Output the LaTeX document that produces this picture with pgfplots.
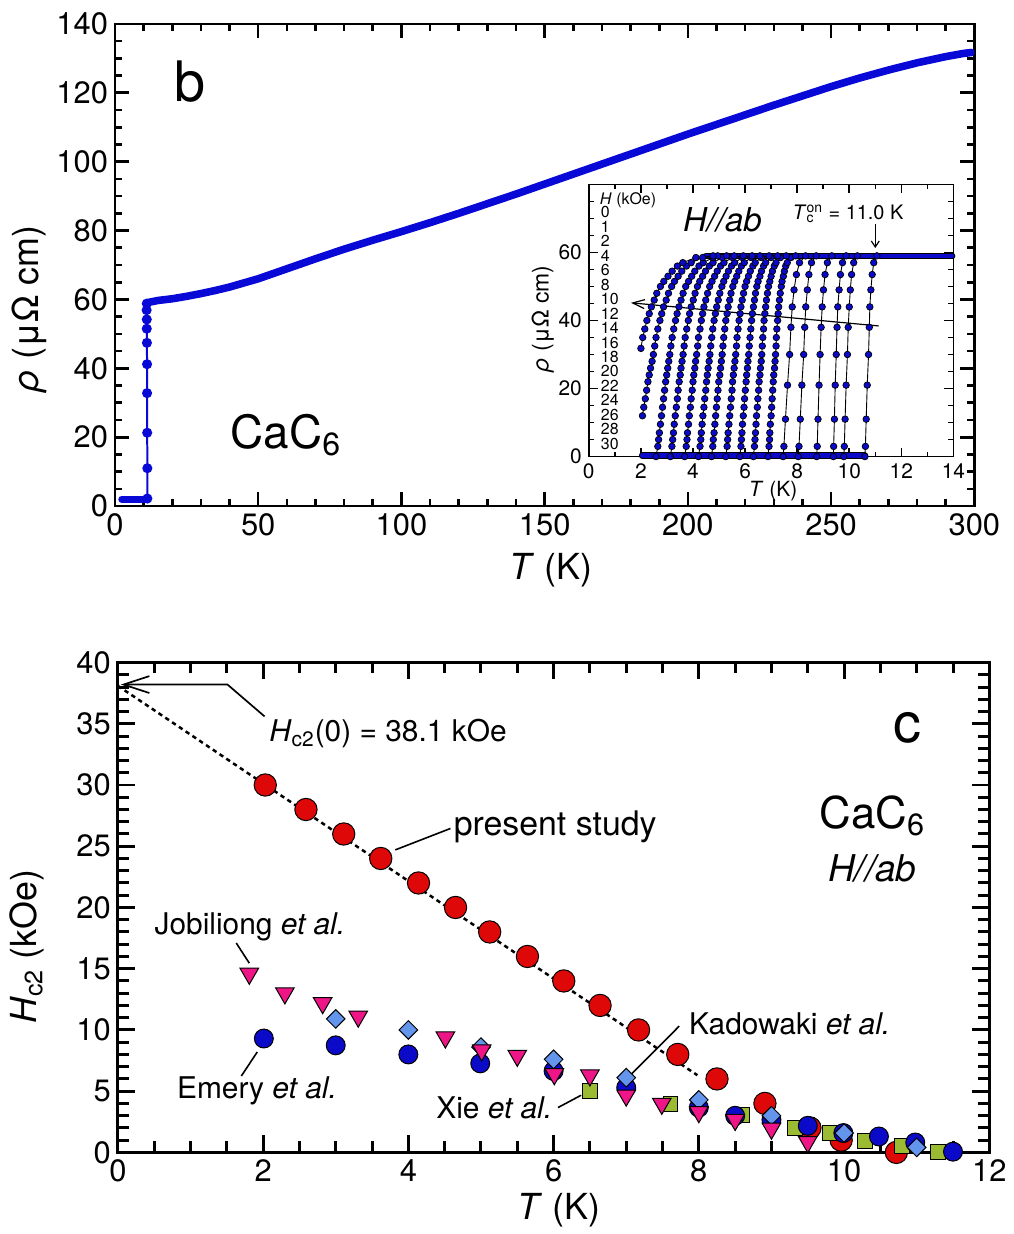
\documentclass[border=0pt]{standalone}
\usepackage{fontspec}
\setmainfont{TeX Gyre Heros}
\usepackage{pgfplots}
\pgfplotsset{compat=1.18}
\usetikzlibrary{arrows.meta}
\definecolor{cblue}{RGB}{8,8,215}
\definecolor{mblue}{RGB}{10,10,200}
\definecolor{cred}{RGB}{222,8,8}
\definecolor{cdiam}{RGB}{100,149,237}
\definecolor{cpink}{RGB}{238,22,135}
\definecolor{cgreen}{RGB}{155,188,50}
\newcommand{\FS}[1]{\fontsize{#1}{#1}\selectfont}
\pgfplotsset{
 ic/.style={black, line width=0.45pt, mark=*, mark size=1.65pt, mark options={fill=mblue, draw=black, line width=0.35pt}},
}
\tikzset{num/.style={anchor=base west, inner sep=0pt, font=\FS{8}}}
\begin{document}
\begin{tikzpicture}
\path (0,0) rectangle (507pt,617pt);
% ================= top panel =================
\begin{axis}[
 at={(57.7pt,363pt)}, anchor=south west, scale only axis,
 width=431.3pt, height=242pt,
 xmin=0, xmax=300, ymin=0, ymax=140,
 xtick={0,50,...,300}, minor x tick num=4,
 ytick={0,20,...,140}, minor y tick num=3,
 tick align=inside, major tick length=7pt, minor tick length=3.5pt,
 axis line style={line width=1.3pt},
 tick style={black, line width=1.3pt},
 /pgf/number format/assume math mode=true,
 tick label style={font=\FS{15.5}},
]
\addplot[cblue, line width=3.6pt, line cap=round] coordinates {(2.4,2)(11.2,2)};
\addplot[cblue, line width=1pt, mark=*, mark size=2pt, mark options={fill=cblue, draw=cblue}] coordinates {
(11.3,2.2)(11.3,11)(11.25,21.3)(11.2,32.8)(11.2,41.2)(11.15,47.4)(11.1,51.5)(11.1,54.2)(11.05,56.9)(11.1,58.8)};
\addplot[cblue, line width=3.8pt, line cap=round, line join=round] coordinates {
(11.1,58.8)(12,59.2)(15,59.7)(20,60.2)(25,60.9)(30,61.7)(35,62.6)(40,63.6)(45,64.8)(50,66.0)
(60,68.9)(70,71.8)(80,74.6)(90,77.2)(100,79.7)(110,82.3)(120,85)(130,87.8)(140,90.6)(150,93.5)
(160,96.4)(170,99.3)(180,102.2)(190,105.1)(200,108)(210,110.8)(220,113.6)(230,116.4)(240,119.1)
(250,121.8)(260,124.3)(270,126.6)(280,128.7)(290,130.5)(296,131.4)(299,131.7)};
\node[anchor=base, font=\FS{28}] at (axis cs:26.2,117.4) {b};
\node[anchor=base, font=\FS{23}] at (axis cs:59.7,16.8) {CaC\textsubscript{6}};
\end{axis}
% ================= inset =================
\begin{axis}[
 at={(295.5pt,387.85pt)}, anchor=south west, scale only axis,
 width=183pt, height=136.6pt,
 xmin=0, xmax=14, ymin=0, ymax=80, clip=false,
 xtick={0,2,...,14}, minor x tick num=1,
 ytick={0,20,...,80}, yticklabels={0,20,40,60,{}}, minor y tick num=3,
 tick align=inside, major tick length=4.5pt, minor tick length=2.5pt,
 axis line style={line width=0.8pt},
 tick style={black, line width=0.8pt},
 axis background/.style={fill=white},
 /pgf/number format/assume math mode=true,
 tick label style={font=\FS{10.5}},
]
\addplot[black, line width=3.3pt, line cap=round] coordinates {(2.05,0.3)(10.6,0.3)};
\addplot[mblue, line width=2.3pt, line cap=round] coordinates {(2.05,0.3)(10.6,0.3)};
\addplot[black, line width=3.3pt, line cap=round] coordinates {(4.5,59)(13.95,59)};
\addplot[mblue, line width=2.3pt, line cap=round] coordinates {(4.5,59)(13.95,59)};
% H = 0 ... 8 kOe
\addplot[ic] coordinates {(10.60,0)(10.62,3)(10.65,11)(10.69,21)(10.74,30)(10.77,38)(10.79,44)(10.83,49)(10.88,53.5)(10.94,57)(11.06,59)};
\addplot[ic] coordinates {(9.79,0)(9.81,3)(9.84,11)(9.88,21)(9.93,30)(9.96,38)(10.00,44)(10.04,49)(10.09,53.5)(10.17,57)(10.31,59)};
\addplot[ic] coordinates {(9.39,0)(9.40,3)(9.43,11)(9.46,21)(9.50,30)(9.53,38)(9.56,44)(9.61,49)(9.66,53.5)(9.74,57)(9.88,59)};
\addplot[ic] coordinates {(8.75,0)(8.77,3)(8.80,11)(8.84,21)(8.88,30)(8.92,38)(8.96,44)(9.01,49)(9.07,53.5)(9.16,57)(9.33,59)};
\addplot[ic] coordinates {(8.04,0)(8.07,3)(8.12,11)(8.18,21)(8.25,30)(8.29,38)(8.33,44)(8.39,49)(8.45,53.5)(8.55,57)(8.73,59)};
\addplot[ic] coordinates {(7.46,0)(7.49,3)(7.55,11)(7.63,21)(7.71,30)(7.76,38)(7.81,44)(7.88,49)(7.97,53.5)(8.09,57)(8.32,59)};
% H = 10 ... 30 kOe
\addplot[ic] coordinates {(6.88,0)(6.92,3)(6.94,5)(6.95,7)(6.97,9.5)(7.00,12)(7.02,14.5)(7.04,17)(7.06,19.5)(7.08,22)(7.10,24)(7.13,26)(7.15,28)(7.17,30)(7.19,32.5)(7.20,35)(7.22,37.5)(7.25,40)(7.27,42)(7.29,44)(7.32,46)(7.35,48)(7.39,50)(7.42,51.5)(7.47,53)(7.51,54.5)(7.56,56)(7.62,57)(7.76,58.5)(7.94,59)};
\addplot[ic] coordinates {(6.32,0)(6.36,3)(6.38,5)(6.40,7)(6.42,9.5)(6.44,12)(6.47,14.5)(6.49,17)(6.52,19.5)(6.54,22)(6.57,24)(6.59,26)(6.62,28)(6.64,30)(6.66,32.5)(6.68,35)(6.71,37.5)(6.73,40)(6.76,42)(6.79,44)(6.82,46)(6.86,48)(6.90,50)(6.95,51.5)(7.00,53)(7.05,54.5)(7.12,56)(7.19,57)(7.36,58.5)(7.58,59)};
\addplot[ic] coordinates {(5.80,0)(5.84,3)(5.86,5)(5.88,7)(5.90,9.5)(5.93,12)(5.96,14.5)(5.98,17)(6.01,19.5)(6.04,22)(6.06,24)(6.09,26)(6.11,28)(6.14,30)(6.16,32.5)(6.19,35)(6.22,37.5)(6.25,40)(6.28,42)(6.32,44)(6.36,46)(6.40,48)(6.45,50)(6.50,51.5)(6.57,53)(6.63,54.5)(6.71,56)(6.79,57)(6.99,58.5)(7.25,59)};
\addplot[ic] coordinates {(5.26,0)(5.31,3)(5.33,5)(5.35,7)(5.38,9.5)(5.41,12)(5.44,14.5)(5.47,17)(5.50,19.5)(5.52,22)(5.55,24)(5.58,26)(5.61,28)(5.64,30)(5.67,32.5)(5.69,35)(5.73,37.5)(5.77,40)(5.81,42)(5.84,44)(5.89,46)(5.94,48)(6.00,50)(6.06,51.5)(6.13,53)(6.20,54.5)(6.30,56)(6.39,57)(6.62,58.5)(6.92,59)};
\addplot[ic] coordinates {(4.71,0)(4.76,3)(4.78,5)(4.81,7)(4.84,9.5)(4.87,12)(4.90,14.5)(4.93,17)(4.96,19.5)(4.99,22)(5.03,24)(5.06,26)(5.09,28)(5.12,30)(5.15,32.5)(5.18,35)(5.22,37.5)(5.26,40)(5.31,42)(5.35,44)(5.41,46)(5.46,48)(5.53,50)(5.60,51.5)(5.68,53)(5.76,54.5)(5.86,56)(5.97,57)(6.23,58.5)(6.57,59)};
\addplot[ic] coordinates {(4.21,0)(4.27,3)(4.30,5)(4.32,7)(4.35,9.5)(4.38,12)(4.42,14.5)(4.45,17)(4.49,19.5)(4.52,22)(4.55,24)(4.58,26)(4.62,28)(4.65,30)(4.68,32.5)(4.72,35)(4.76,37.5)(4.81,40)(4.86,42)(4.91,44)(4.97,46)(5.03,48)(5.11,50)(5.18,51.5)(5.27,53)(5.36,54.5)(5.48,56)(5.60,57)(5.89,58.5)(6.27,59)};
\addplot[ic] coordinates {(3.68,0)(3.74,3)(3.77,5)(3.79,7)(3.83,9.5)(3.86,12)(3.90,14.5)(3.93,17)(3.97,19.5)(4.00,22)(4.03,24)(4.07,26)(4.10,28)(4.14,30)(4.18,32.5)(4.21,35)(4.27,37.5)(4.32,40)(4.37,42)(4.42,44)(4.49,46)(4.56,48)(4.64,50)(4.73,51.5)(4.83,53)(4.93,54.5)(5.06,56)(5.19,57)(5.51,58.5)(5.93,59)};
\addplot[ic] coordinates {(3.13,0)(3.19,3)(3.22,5)(3.25,7)(3.28,9.5)(3.32,12)(3.36,14.5)(3.40,17)(3.43,19.5)(3.47,22)(3.51,24)(3.54,26)(3.58,28)(3.62,30)(3.66,32.5)(3.70,35)(3.76,37.5)(3.82,40)(3.87,42)(3.93,44)(4.01,46)(4.08,48)(4.17,50)(4.26,51.5)(4.37,53)(4.48,54.5)(4.63,56)(4.77,57)(5.12,58.5)(5.58,59)};
\addplot[ic] coordinates {(2.58,0)(2.65,3)(2.68,5)(2.71,7)(2.75,9.5)(2.79,12)(2.83,14.5)(2.87,17)(2.91,19.5)(2.95,22)(2.99,24)(3.03,26)(3.07,28)(3.11,30)(3.15,32.5)(3.20,35)(3.26,37.5)(3.33,40)(3.39,42)(3.46,44)(3.54,46)(3.62,48)(3.72,50)(3.83,51.5)(3.95,53)(4.07,54.5)(4.23,56)(4.39,57)(4.77,58.5)(5.29,59)};
\addplot[ic] coordinates {(2.06,12)(2.11,14.5)(2.17,17)(2.22,19.5)(2.27,22)(2.32,24)(2.37,26)(2.43,28)(2.48,30)(2.53,32.5)(2.58,35)(2.65,37.5)(2.73,40)(2.80,42)(2.87,44)(2.97,46)(3.06,48)(3.18,50)(3.29,51.5)(3.43,53)(3.57,54.5)(3.75,56)(3.93,57)(4.37,58.5)(4.95,59)};
\addplot[ic] coordinates {(2.00,31.8)(2.07,35)(2.15,37.5)(2.23,40)(2.32,42)(2.40,44)(2.51,46)(2.61,48)(2.75,50)(2.88,51.5)(3.04,53)(3.20,54.5)(3.40,56)(3.61,57)(4.11,58.5)(4.77,59)};
% annotations
\node[anchor=base, font=\FS{16.5}\itshape] at (axis cs:5.13,66.1) {H//ab};
\node[anchor=base west, inner sep=0pt, font=\FS{10}] at (axis cs:7.81,69.7) {\textit{T}\rlap{\textsubscript{c}}\textsuperscript{on} = 11.0 K};
\draw[-{Straight Barb[length=3pt,width=4pt]}, line width=0.6pt] (axis cs:11.0,68.3) -- (axis cs:11.0,61.3);
\draw[-{Straight Barb[length=6pt,width=4.5pt]}, line width=0.6pt] (axis cs:11.13,38.4) -- (axis cs:1.62,45.2);
\node[anchor=base west, inner sep=0pt, font=\FS{8}] at (axis cs:0.41,74.2) {\textit{H} (kOe)};
\node[num] at (axis cs:0.45,70.2) {0};
\node[num] at (axis cs:0.45,65.95) {1};
\node[num] at (axis cs:0.45,61.7) {2};
\node[num] at (axis cs:0.45,57.4) {4};
\node[num] at (axis cs:0.45,53.2) {6};
\node[num] at (axis cs:0.45,48.9) {8};
\node[num] at (axis cs:0.45,44.7) {10};
\node[num] at (axis cs:0.45,40.4) {12};
\node[num] at (axis cs:0.45,36.2) {14};
\node[num] at (axis cs:0.45,31.9) {16};
\node[num] at (axis cs:0.45,27.65) {18};
\node[num] at (axis cs:0.45,23.4) {20};
\node[num] at (axis cs:0.45,19.14) {22};
\node[num] at (axis cs:0.45,14.9) {24};
\node[num] at (axis cs:0.45,10.6) {26};
\node[num] at (axis cs:0.45,6.4) {28};
\node[num] at (axis cs:0.45,2.1) {30};
\end{axis}
% ================= bottom panel =================
\begin{axis}[
 at={(59.15pt,38.65pt)}, anchor=south west, scale only axis,
 width=437.35pt, height=245.85pt,
 xmin=0, xmax=12, ymin=0, ymax=40, clip=false,
 xtick={0,2,...,12}, minor x tick num=3,
 ytick={0,5,...,40}, minor y tick num=4,
 tick align=inside, major tick length=8.5pt, minor tick length=5.5pt,
 axis line style={line width=1.5pt},
 tick style={black, line width=1.5pt},
 /pgf/number format/assume math mode=true,
 tick label style={font=\FS{15.5}},
]
% present study
\addplot[only marks, mark=*, mark size=5.6pt, mark options={fill=cred, draw=black, line width=0.5pt}] coordinates {
(2.03,30)(2.59,28)(3.11,26)(3.62,24)(4.14,22)(4.65,20)(5.12,18)(5.64,16)(6.14,14)(6.64,12)(7.17,10)(7.71,8)(8.25,6)(8.91,4)(9.53,2)(9.96,1)(10.72,0)};
% Xie et al.
\addplot[only marks, mark=square*, mark size=3.75pt, mark options={fill=cgreen, draw=black, line width=0.5pt}] coordinates {
(6.5,5.02)(7.61,3.94)(8.6,3.04)(9.32,1.98)(9.80,1.55)(10.29,0.95)(10.80,0.49)(11.29,0.0)};
% Emery et al.
\addplot[only marks, mark=*, mark size=4.75pt, mark options={fill=mblue, draw=black, line width=0.5pt}] coordinates {
(2.01,9.3)(3.0,8.74)(4.0,8.0)(4.99,7.27)(6.0,6.65)(7.0,5.29)(8.0,3.66)(8.5,2.99)(9.0,2.66)(9.5,2.17)(9.99,1.58)(10.48,1.3)(10.98,0.81)(11.5,0.06)};
% Kadowaki et al.
\addplot[only marks, mark=square*, mark size=3.3pt, mark options={rotate=45, fill=cdiam, draw=black, line width=0.5pt}] coordinates {
(3.0,10.9)(4.0,10.0)(5.0,8.6)(6.0,7.6)(7.0,6.1)(8.0,4.29)(9.0,2.99)(10.0,1.58)(11.0,0.41)};
% Jobiliong et al.
\addplot[only marks, mark=triangle*, mark size=5.4pt, mark options={rotate=180, fill=cpink, draw=black, line width=0.5pt}] coordinates {
(1.81,14.6)(2.30,13.0)(2.82,12.2)(3.31,11.1)(4.51,9.4)(5.01,8.35)(5.50,7.9)(6.01,6.4)(6.50,6.3)(7.0,4.65)(7.49,3.98)(8.0,3.3)(8.50,2.66)(9.0,1.95)(9.5,0.85)};
% extrapolation
\addplot[black, line width=1.25pt, dash pattern=on 2.2pt off 1.9pt] coordinates {(0,38.1)(7.98,6.3)};
% annotations
\draw[line width=0.85pt, -{Straight Barb[length=13pt,width=8.5pt]}] (axis cs:2.02,35.6) -- (axis cs:1.51,38.2) -- (axis cs:0.04,38.2);
\node[anchor=west, inner sep=0pt, font=\FS{15}] at (axis cs:2.08,34.2) {\textit{H}\textsubscript{c2}(0) = 38.1 kOe};
\draw[line width=0.8pt] (axis cs:3.82,24.7) -- (axis cs:4.58,26.45);
\node[anchor=west, inner sep=0pt, font=\FS{17}] at (axis cs:4.62,26.6) {present study};
\draw[line width=0.8pt] (axis cs:1.63,17.1) -- (axis cs:1.81,15.45);
\node[anchor=west, inner sep=0pt, font=\FS{15}] at (axis cs:0.5,18.45) {Jobiliong \textit{et al.}};
\draw[line width=0.8pt] (axis cs:1.92,8.2) -- (axis cs:1.70,6.24);
\node[anchor=west, inner sep=0pt, font=\FS{15}] at (axis cs:0.81,5.0) {Emery \textit{et al.}};
\draw[line width=0.8pt] (axis cs:6.06,3.66) -- (axis cs:6.38,4.67);
\node[anchor=west, inner sep=0pt, font=\FS{15}] at (axis cs:4.38,3.64) {Xie \textit{et al.}};
\draw[line width=0.8pt] (axis cs:7.73,10.31) -- (axis cs:7.07,6.38);
\node[anchor=west, inner sep=0pt, font=\FS{15}] at (axis cs:7.86,10.47) {Kadowaki \textit{et al.}};
\node[anchor=base, font=\FS{28}] at (axis cs:10.87,33.5) {c};
\node[anchor=base, font=\FS{22}] at (axis cs:10.39,26.45) {CaC\textsubscript{6}};
\node[anchor=base, font=\FS{18.5}\itshape] at (axis cs:10.39,22.1) {H//ab};
\end{axis}
% ================= axis labels =================
\begin{scope}[x=0.5pt, y=-0.5pt, shift={(0,617pt)}]
\node[rotate=90, font=\FS{18}] at (30,310) {\textit{ρ} (μΩ cm)};
\node[font=\FS{18}] at (553,572) {\textit{T} (K)};
\node[rotate=90, font=\FS{18}] at (27,950) {\textit{H}\textsubscript{c2} (kOe)};
\node[font=\FS{18}] at (561,1215) {\textit{T} (K)};
\node[rotate=90, font=\FS{11.5}] at (545,320) {\textit{ρ} (μΩ cm)};
\node[font=\FS{10.5}] at (776,493) {\textit{T} (K)};
\end{scope}
\end{tikzpicture}
\end{document}
